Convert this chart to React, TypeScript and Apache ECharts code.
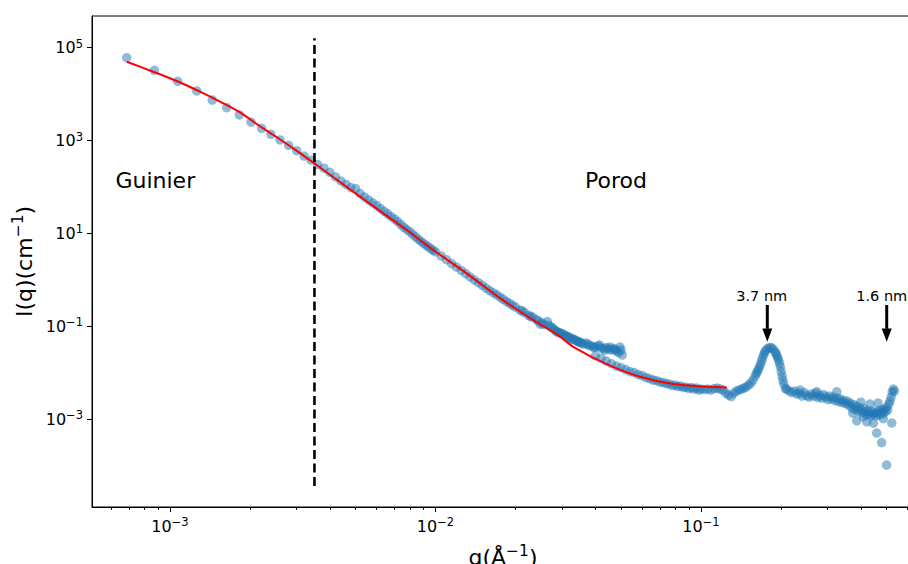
import React, { useEffect, useRef } from 'react';
import * as echarts from 'echarts';

type Pt = [number, number];

// q (Å^-1), I(q) (cm^-1)
const guinierPoints: Pt[] = [
  [0.000687, 60900], [0.000873, 32600], [0.001069, 18900], [0.001261, 11700], [0.001443, 7460],
  [0.001635, 5090], [0.001824, 3550], [0.002018, 2500], [0.002215, 1830], [0.002401, 1360],
  [0.002596, 1030], [0.002799, 789], [0.0030, 603],
];

const porodPoints: Pt[] = [
  [0.0032, 463], [0.0034, 376], [0.0036, 303], [0.0038, 254], [0.0040, 206], [0.0042, 164],
  [0.0044, 135], [0.0046, 113], [0.0048, 97], [0.0050, 92], [0.0052, 72.1], [0.0054, 60.8],
  [0.0056, 52.5], [0.0058, 45.6], [0.0060, 39.9], [0.0062, 34.4], [0.0064, 29.9], [0.0066, 26.3],
  [0.0068, 23.2], [0.0070, 20.4], [0.0072, 17.9], [0.0074, 15.5], [0.0076, 13.5], [0.0078, 12.1],
  [0.0080, 10.8], [0.0082, 9.62], [0.0084, 8.49], [0.0086, 7.5], [0.0088, 6.76], [0.0090, 6.12],
  [0.0092, 5.57], [0.0094, 5.09], [0.0096, 4.68], [0.0098, 4.3], [0.0100, 3.97], [0.0105, 3.27],
  [0.0110, 2.71], [0.0115, 2.23], [0.0120, 1.88], [0.0125, 1.585], [0.0130, 1.36], [0.0135, 1.15],
  [0.0140, 0.99], [0.0145, 0.865], [0.0150, 0.76], [0.0155, 0.662], [0.0160, 0.585], [0.0165, 0.525],
  [0.0170, 0.473], [0.0175, 0.422], [0.0180, 0.378], [0.0185, 0.34], [0.0190, 0.31], [0.0195, 0.282],
  [0.0200, 0.258],
];

const shoulderPoints: Pt[] = [
  [0.0208, 0.222], [0.0212, 0.215], [0.0216, 0.196], [0.0224, 0.173], [0.0228, 0.16], [0.0232, 0.157],
  [0.0240, 0.139], [0.0244, 0.13], [0.0248, 0.111], [0.0252, 0.118], [0.0256, 0.108], [0.0264, 0.126],
  [0.0268, 0.103], [0.0272, 0.0957], [0.0276, 0.092], [0.0280, 0.0845], [0.0284, 0.079], [0.0288, 0.0746],
  [0.0292, 0.073], [0.0296, 0.071], [0.0300, 0.069], [0.0304, 0.0659], [0.0308, 0.063], [0.0312, 0.0612],
  [0.0316, 0.059], [0.0320, 0.0568], [0.0324, 0.0545], [0.0328, 0.0527], [0.0332, 0.052], [0.0336, 0.0501],
  [0.0340, 0.048], [0.0344, 0.0466], [0.0348, 0.0455], [0.0352, 0.0443], [0.0356, 0.043], [0.0360, 0.0411],
  [0.0370, 0.0433], [0.0375, 0.0401], [0.0380, 0.0382], [0.0390, 0.0372], [0.0395, 0.0346], [0.0400, 0.0355],
  [0.0400, 0.023], [0.0410, 0.0372], [0.0415, 0.0392], [0.0420, 0.0337], [0.0420, 0.0205], [0.0430, 0.0329],
  [0.0435, 0.0305], [0.0440, 0.0346], [0.0440, 0.0177], [0.0450, 0.0321], [0.0455, 0.0355], [0.0460, 0.0305],
  [0.0460, 0.0156], [0.0470, 0.0329], [0.0475, 0.0313], [0.0480, 0.029], [0.0480, 0.0138], [0.0490, 0.027],
  [0.0495, 0.0355], [0.0500, 0.0305], [0.0500, 0.0128], [0.0505, 0.0238],
];

const plateauPoints: Pt[] = [
  [0.052, 0.0116], [0.054, 0.0105], [0.056, 0.01], [0.058, 0.00906], [0.060, 0.00861], [0.062, 0.0078],
  [0.064, 0.00743], [0.066, 0.00689], [0.068, 0.00673], [0.070, 0.00624], [0.072, 0.00608], [0.074, 0.00579],
  [0.076, 0.00565], [0.078, 0.00525], [0.080, 0.00538], [0.082, 0.00499], [0.084, 0.00512], [0.086, 0.00475],
  [0.088, 0.00486], [0.090, 0.00452], [0.092, 0.00475], [0.094, 0.00441], [0.096, 0.00463], [0.098, 0.0042],
  [0.100, 0.00441],
];

const peakPoints: Pt[] = [
  [0.103, 0.0043], [0.106, 0.00441], [0.109, 0.0042], [0.112, 0.00452], [0.115, 0.00463], [0.118, 0.00441],
  [0.121, 0.0042], [0.124, 0.00362], [0.127, 0.00327], [0.130, 0.00304], [0.133, 0.00362], [0.136, 0.00399],
  [0.139, 0.0042], [0.142, 0.00441], [0.145, 0.00463], [0.148, 0.00487], [0.151, 0.00538], [0.154, 0.00594],
  [0.157, 0.00689], [0.160, 0.00841], [0.1615, 0.0095], [0.163, 0.0105], [0.1645, 0.0118], [0.166, 0.0132],
  [0.1675, 0.0152], [0.169, 0.0177], [0.1705, 0.0205], [0.172, 0.0238], [0.1735, 0.0268], [0.175, 0.0298],
  [0.178, 0.0329], [0.181, 0.0346], [0.184, 0.0346], [0.187, 0.0321], [0.190, 0.0284], [0.1915, 0.0258],
  [0.193, 0.0232], [0.1945, 0.0208], [0.196, 0.0186], [0.1975, 0.0158], [0.199, 0.0132], [0.2005, 0.0105],
  [0.202, 0.00841], [0.2035, 0.0068], [0.205, 0.00565], [0.208, 0.00452],
];

const widePoints: Pt[] = [
  [0.210, 0.00441], [0.215, 0.00399], [0.220, 0.00371], [0.225, 0.00399], [0.230, 0.00344], [0.235, 0.00362],
  [0.240, 0.00312], [0.245, 0.00371], [0.250, 0.00319], [0.255, 0.00297], [0.260, 0.00344], [0.265, 0.00312],
  [0.270, 0.00362], [0.275, 0.00289], [0.280, 0.00319], [0.285, 0.00282], [0.290, 0.00336], [0.295, 0.00297],
  [0.300, 0.00262], [0.305, 0.00312], [0.310, 0.00269], [0.315, 0.00297], [0.320, 0.00249], [0.325, 0.00282],
  [0.330, 0.00237], [0.335, 0.00269], [0.340, 0.00226], [0.345, 0.00249], [0.350, 0.00215], [0.355, 0.00243],
  [0.360, 0.00199], [0.365, 0.0022], [0.370, 0.00172], [0.375, 0.00204], [0.380, 0.00163], [0.385, 0.0019],
  [0.390, 0.00148], [0.395, 0.00176], [0.400, 0.00156], [0.405, 0.00134], [0.410, 0.00168], [0.415, 0.00141],
  [0.420, 0.00124], [0.425, 0.00152], [0.430, 0.00131], [0.435, 0.00116], [0.440, 0.00148], [0.445, 0.00128],
  [0.450, 0.00137], [0.455, 0.00116], [0.460, 0.00134], [0.465, 0.00152], [0.470, 0.00121], [0.475, 0.00141],
  [0.480, 0.00159], [0.485, 0.00131], [0.490, 0.00163], [0.495, 0.00144], [0.500, 0.00181], [0.505, 0.00156],
  [0.510, 0.0021], [0.515, 0.00243], [0.520, 0.00297], [0.525, 0.0038], [0.530, 0.00441], [0.535, 0.00399],
];

const outlierPoints: Pt[] = [
  [0.236, 0.0042], [0.273, 0.00386], [0.3245, 0.00386], [0.373, 0.00134], [0.386, 0.000915], [0.400, 0.00231],
  [0.408, 0.00112], [0.421, 0.00087], [0.433, 0.0021], [0.446, 0.00081], [0.459, 0.000497], [0.464, 0.0022],
  [0.479, 0.00031], [0.486, 0.00102], [0.500, 0.000102], [0.523, 0.00082],
];

// fitted model curve
const fitPoints: Pt[] = [
  [0.000687, 49900], [0.000865, 30400], [0.00106, 19160], [0.001297, 11270], [0.001588, 6340],
  [0.001835, 4050], [0.002121, 2270], [0.002449, 1314], [0.002912, 679], [0.003569, 296],
  [0.004764, 88.8], [0.006357, 27.0], [0.00779, 11.8], [0.00981, 4.37], [0.01311, 1.374],
  [0.01749, 0.403], [0.02335, 0.1353], [0.02861, 0.0676], [0.03304, 0.036], [0.04414, 0.01525],
  [0.0589, 0.00812], [0.07865, 0.00565], [0.1051, 0.00494], [0.125, 0.0048],
];

// Guinier / Porod boundary
const boundaryQ = 0.0035;
const boundaryI: Pt = [3.6e-5, 1.6e5];

const regionLabels = [
  { text: 'Guinier', q: 6.23e-4, I: 141 },
  { text: 'Porod', q: 0.03656, I: 141 },
];
const peakLabels = [
  { text: '3.7 nm', q: 0.1693, I: 0.441, arrowQ: 0.1777, fromI: 0.285, shaftEndI: 0.088, tipI: 0.0461 },
  { text: '1.6 nm', q: 0.4793, I: 0.441, arrowQ: 0.5005, fromI: 0.285, shaftEndI: 0.088, tipI: 0.0461 },
];

// axis: log10 extents and tick exponents
const xLogRange = [-3.2938, -0.1978];
const yLogRange = [-4.896, 5.683];
const xTickExponents = [-3, -2, -1];
const yTickExponents = [5, 3, 1, -1, -3];
const minorMultipliers = [2, 3, 4, 5, 6, 7, 8, 9];
const minorDecades = [-4, -3, -2, -1];

const L = Math.log10;
const FONT = "'DejaVu Sans', sans-serif";
const toXY = (pts: Pt[]) => pts.map(([q, i]) => [L(q), L(i)]);
const supText = (n: number) => (n < 0 ? '\u2212' + Math.abs(n) : String(n));
const tickFmt = (v: number) => `{b|10}{s|${supText(Math.round(v))}}`;
const tickRich = {
  b: { fontSize: 16, lineHeight: 20, fontFamily: FONT, color: '#000' },
  s: { fontSize: 11.5, lineHeight: 9, verticalAlign: 'top', fontFamily: FONT, color: '#000' },
};
const nameRich = {
  n: { fontSize: 22, lineHeight: 28, fontFamily: FONT, color: '#000' },
  s: { fontSize: 15.5, lineHeight: 12, verticalAlign: 'top', fontFamily: FONT, color: '#000' },
};

export default function App() {
  const ref = useRef<HTMLDivElement>(null);
  useEffect(() => {
    if (!ref.current) return;
    const chart = echarts.init(ref.current, null, { renderer: 'svg' });
    const minorTicks = minorDecades
      .flatMap((d) => minorMultipliers.map((m) => d + L(m)))
      .filter((v) => v > xLogRange[0] && v < xLogRange[1]);
    const allPoints = [
      ...guinierPoints, ...porodPoints, ...shoulderPoints, ...plateauPoints,
      ...peakPoints, ...widePoints, ...outlierPoints,
    ];
    const textLabel = (text: string, size: number, align: string) => ({
      show: true, position: 'inside', formatter: text, align, verticalAlign: 'middle',
      fontSize: size, fontFamily: FONT, color: '#000', textBorderWidth: 0, opacity: 1,
    });
    const option: any = {
      animation: false,
      backgroundColor: '#fff',
      textStyle: { fontFamily: FONT },
      grid: {
        left: 92, top: 16, right: -6, bottom: 57,
        show: true, borderColor: '#000', borderWidth: 1, backgroundColor: 'transparent',
        containLabel: false, outerBoundsMode: 'none',
      },
      xAxis: [
        {
          type: 'value', position: 'bottom', min: xLogRange[0], max: xLogRange[1],
          axisLine: { show: true, onZero: false, lineStyle: { color: '#000', width: 1 } },
          axisTick: { show: true, length: 5, customValues: xTickExponents, lineStyle: { color: '#000', width: 1 } },
          axisLabel: { show: true, customValues: xTickExponents, formatter: tickFmt, rich: tickRich, margin: 9 },
          splitLine: { show: false },
          name: '{n|q(Å}{s|\u22121}{n|)}',
          nameLocation: 'middle', nameGap: 36, nameMoveOverlap: false,
          nameTextStyle: { rich: nameRich },
        },
        {
          type: 'value', position: 'bottom', min: xLogRange[0], max: xLogRange[1],
          axisLine: { show: false, onZero: false },
          axisTick: { show: true, length: 3, customValues: minorTicks, lineStyle: { color: '#000', width: 0.9 } },
          axisLabel: { show: false },
          splitLine: { show: false },
        },
      ],
      yAxis: [
        {
          type: 'value', position: 'left', min: yLogRange[0], max: yLogRange[1],
          axisLine: { show: true, onZero: false, lineStyle: { color: '#000', width: 1 } },
          axisTick: { show: true, length: 5, customValues: yTickExponents, lineStyle: { color: '#000', width: 1 } },
          axisLabel: { show: true, customValues: yTickExponents, formatter: tickFmt, rich: tickRich, margin: 9 },
          splitLine: { show: false },
          name: '{n|I(q)(cm}{s|\u22121}{n|)}',
          nameLocation: 'middle', nameGap: 54, nameMoveOverlap: false,
          nameTextStyle: { rich: nameRich },
        },
      ],
      series: [
        {
          type: 'scatter', silent: true, z: 2,
          symbol: 'circle', symbolSize: 9.5,
          itemStyle: { color: '#1f77b4', opacity: 0.5, borderWidth: 0 },
          data: toXY(allPoints),
        },
        {
          type: 'line', silent: true, z: 3, symbol: 'none', showSymbol: false, smooth: 0.3,
          lineStyle: { color: '#ff0000', width: 2 },
          data: toXY(fitPoints),
        },
        {
          type: 'line', silent: true, z: 4, symbol: 'none', showSymbol: false,
          lineStyle: { color: '#000', width: 2.6, type: [9, 4.5] },
          data: [[L(boundaryQ), L(boundaryI[0])], [L(boundaryQ), L(boundaryI[1])]],
        },
        ...peakLabels.map((p) => ({
          type: 'line', silent: true, z: 5, symbol: 'none', showSymbol: false,
          lineStyle: { color: '#000', width: 3 },
          data: [[L(p.arrowQ), L(p.fromI)], [L(p.arrowQ), L(p.shaftEndI)]],
        })),
        {
          type: 'scatter', silent: true, z: 5,
          symbol: 'triangle', symbolSize: [10, 13.4], symbolRotate: 180, symbolOffset: [0, -6.7],
          itemStyle: { color: '#000', opacity: 1 },
          data: peakLabels.map((p) => [L(p.arrowQ), L(p.tipI)]),
        },
        {
          type: 'scatter', silent: true, z: 6, symbol: 'circle', symbolSize: 1,
          itemStyle: { color: 'rgba(0,0,0,0)' },
          data: regionLabels.map((t) => ({ value: [L(t.q), L(t.I)], label: textLabel(t.text, 22, 'left') })),
        },
        {
          type: 'scatter', silent: true, z: 6, symbol: 'circle', symbolSize: 1,
          itemStyle: { color: 'rgba(0,0,0,0)' },
          data: peakLabels.map((t) => ({ value: [L(t.q), L(t.I)], label: textLabel(t.text, 14.5, 'center') })),
        },
      ],
    };
    chart.setOption(option);
    return () => chart.dispose();
  }, []);
  return (
    <div
      ref={ref}
      style={{ position: 'absolute', left: 0, top: 0, width: 908, height: 564, background: '#fff' }}
    />
  );
}
